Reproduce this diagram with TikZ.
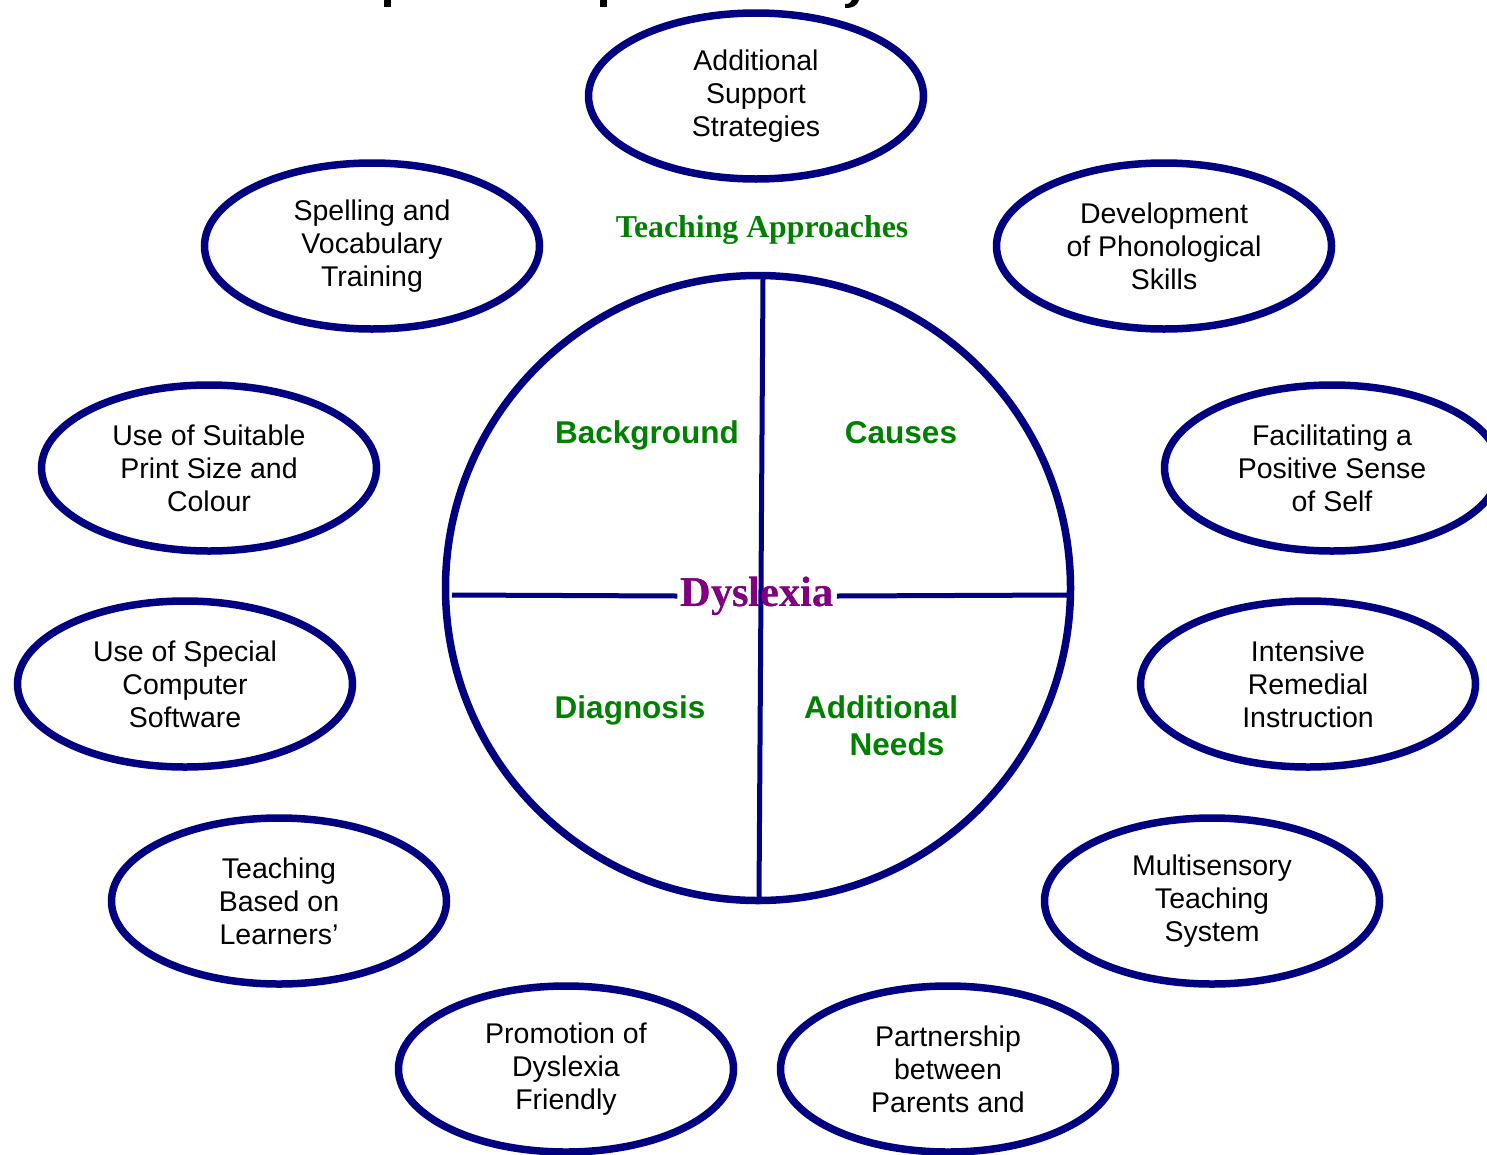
\documentclass[tikz,border=0pt]{standalone}
\usepackage{fontspec}
\setmainfont{Liberation Sans}
\newfontfamily\timesfont{Liberation Serif}
\usetikzlibrary{shapes.geometric}
\definecolor{navy}{HTML}{000080}
\definecolor{dgreen}{HTML}{008000}
\definecolor{purp}{HTML}{800080}
\begin{document}
\begin{tikzpicture}[x=1pt,y=-1pt,
  oval/.style={ellipse, draw=navy, line width=7.5pt, minimum width=335pt, minimum height=166pt,
    inner sep=0pt, align=center, font=\fontsize{28.5}{33}\selectfont},
  part/.style={text=dgreen, font=\fontsize{31.5}{36}\selectfont\bfseries, inner sep=0pt, anchor=base},
  divider/.style={draw=navy, line width=5pt},
  dysfont/.style={text=purp, font=\timesfont\bfseries\fontsize{42.4}{48}\selectfont, inner sep=3pt},
]
\useasboundingbox (0,0) rectangle (1487,1154);
% partly visible title descenders
\fill[black] (384,0) rectangle (391,7);
\fill[black] (600,0) rectangle (607,7);
\fill[black] (852,0) -- (859,0) .. controls (857,6) and (853,8) .. (845,8) -- (845,4) .. controls (849,4) and (851,3) .. (852,0) -- cycle;

% central circle
\node[circle, draw=navy, line width=7.5pt, minimum size=625pt, inner sep=0pt] (hub) at (758,588) {};
\coordinate (vtop) at (763,278);
\coordinate (vbot) at (759,898);
\coordinate (hl) at (452,595);
\coordinate (hr) at (1068,595);
\node[dysfont] (dys) at (757,596) {Dyslexia};
\draw[divider] (vtop) -- (vbot);
\draw[divider] (hl) -- (dys.west);
\draw[divider] (dys.east) -- (hr);
\node[dysfont] at (dys) {Dyslexia};

\node[part] (bg) at (647,443) {Background};
\node[part] (ca) at (901,443) {Causes};
\node[part] (di) at (630,718) {Diagnosis};
\node[part] (an1) at (881,718) {Additional};
\node[part] (an2) at (897,755) {Needs};

\node[text=dgreen, font=\timesfont\bfseries\fontsize{31.8}{36}\selectfont, inner sep=0pt] (ta) at (762,230) {Teaching Approaches};

% ovals
\node[oval] (o1) at (756,96) {Additional\\Support\\Strategies};
\node[oval] (o2) at (372,246) {Spelling and\\Vocabulary\\Training};
\node[oval] (o3) at (1164,246) {Development\\of Phonological\\Skills};
\node[oval] (o4) at (209,468) {Use of Suitable\\Print Size and\\Colour};
\node[oval] (o5) at (1332,468) {Facilitating a\\Positive Sense\\of Self};
\node[oval] (o6) at (185,684) {Use of Special\\Computer\\Software};
\node[oval] (o7) at (1308,684) {Intensive\\Remedial\\Instruction};
\node[oval] (o8) at (279,901) {Teaching\\Based on\\Learners’};
\node[oval] (o9) at (1212,901) {Multisensory\\Teaching\\System};
\node[oval] (o10) at (566,1069) {Promotion of\\Dyslexia\\Friendly};
\node[oval] (o11) at (948,1069) {Partnership\\between\\Parents and};
\end{tikzpicture}
\end{document}
